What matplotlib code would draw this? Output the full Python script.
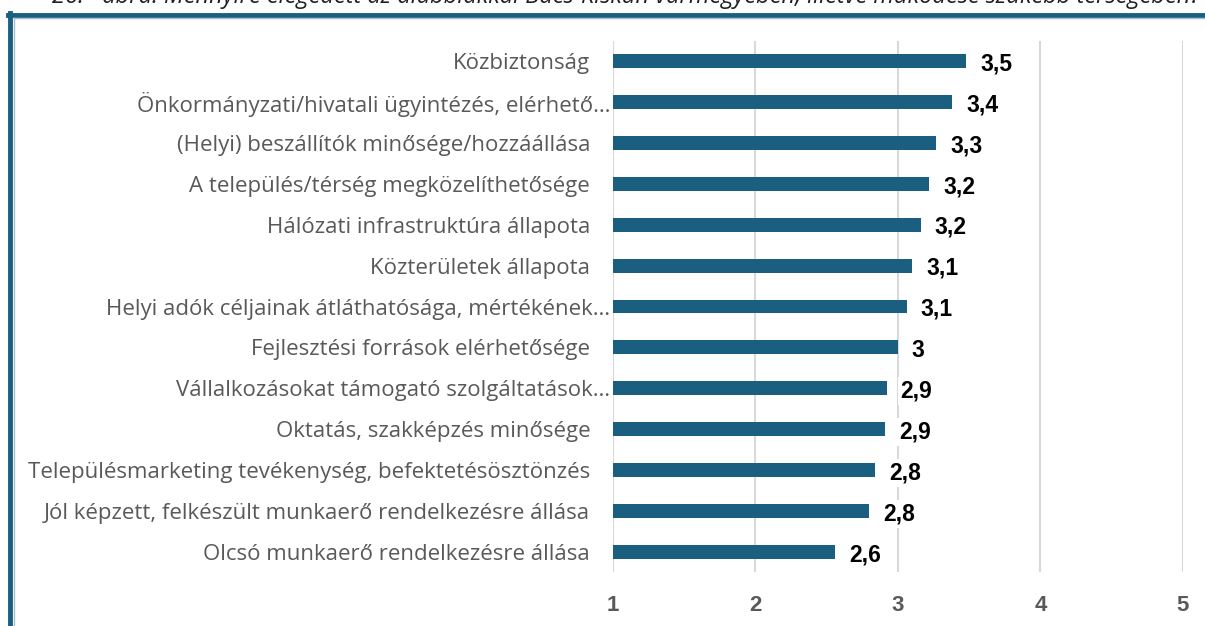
import matplotlib.pyplot as plt
from matplotlib.lines import Line2D
from matplotlib.transforms import ScaledTranslation

# data, top to bottom as in the chart
categories = [
    'Közbiztonság',
    'Önkormányzati/hivatali ügyintézés, elérhető…',
    '(Helyi) beszállítók minősége/hozzáállása',
    'A település/térség megközelíthetősége',
    'Hálózati infrastruktúra állapota',
    'Közterületek állapota',
    'Helyi adók céljainak átláthatósága, mértékének…',
    'Fejlesztési források elérhetősége',
    'Vállalkozásokat támogató szolgáltatások…',
    'Oktatás, szakképzés minősége',
    'Településmarketing tevékenység, befektetésösztönzés',
    'Jól képzett, felkészült munkaerő rendelkezésre állása',
    'Olcsó munkaerő rendelkezésre állása',
]
values = [3.48, 3.38, 3.27, 3.22, 3.16, 3.10, 3.06, 3.00, 2.92, 2.91, 2.84, 2.80, 2.56]
xticks = [1, 2, 3, 4, 5]
title = '26.   ábra: Mennyire elégedett az alábbiakkal Bács-Kiskun vármegyében, illetve működése szűkebb térségében?'

bar_col = '#1b5f80'
text_col = '#595959'
plt.rcParams['font.family'] = ['Open Sans', 'DejaVu Sans']

fig = plt.figure(figsize=(12.05, 6.26), dpi=100)
ax = fig.add_axes([0.5087, 0.0855, 0.4730, 0.8497])

ypos = list(range(len(categories)))
ax.barh(ypos, [v - 1 for v in values], left=1, height=0.34, color=bar_col, zorder=2)

for y, v in zip(ypos, values):
    lab = f'{round(v, 1):g}'.replace('.', ',')
    ax.annotate(lab, (v, y), xytext=(10, -2), textcoords='offset points',
                ha='left', va='center', fontsize=16.5, fontweight='bold', color='black',
                family='Liberation Sans',
                bbox=dict(boxstyle='square,pad=0.1', fc='white', ec='none'), zorder=3)

ax.set_xlim(1, 5)
ax.set_ylim(len(categories) - 0.5, -0.5)
ax.set_yticks(ypos)
ax.set_yticklabels(categories, fontsize=16, color=text_col)
ax.set_xticks(xticks)
ax.set_xticklabels([str(t) for t in xticks], fontsize=16, fontweight='bold', color=text_col,
                   family='Liberation Sans')
ax.tick_params(axis='both', length=0)
ax.tick_params(axis='y', pad=2)
ax.tick_params(axis='x', pad=16)
# labels that are not shortened keep a trailing gap before the axis
for lbl in ax.get_yticklabels():
    if not lbl.get_text().endswith('…'):
        lbl.set_transform(lbl.get_transform() + ScaledTranslation(-0.2, 0, fig.dpi_scale_trans))
for s in ax.spines.values():
    s.set_visible(False)
ax.set_axisbelow(True)
ax.grid(axis='x', color='#d9d9d9', linewidth=1.5)
ax.grid(axis='y', visible=False)

# frame lines of the original figure box
fig.add_artist(Line2D([0.0083, 0.0083], [0, 0.979], color=bar_col, linewidth=3.5, transform=fig.transFigure))
fig.add_artist(Line2D([0.0068, 1.0], [0.976, 0.976], color=bar_col, linewidth=3.5, transform=fig.transFigure))
fig.add_artist(Line2D([0.0115, 0.0115], [0, 0.972], color='#9fc0d3', linewidth=1, transform=fig.transFigure))
fig.add_artist(Line2D([0.0115, 1.0], [0.9705, 0.9705], color='#9fc0d3', linewidth=1, transform=fig.transFigure))

fig.text(0.996, 1.004, title, ha='right', va='center', fontsize=17, style='italic', color='#1f1f1f')

fig.savefig('out.png', dpi=100)
